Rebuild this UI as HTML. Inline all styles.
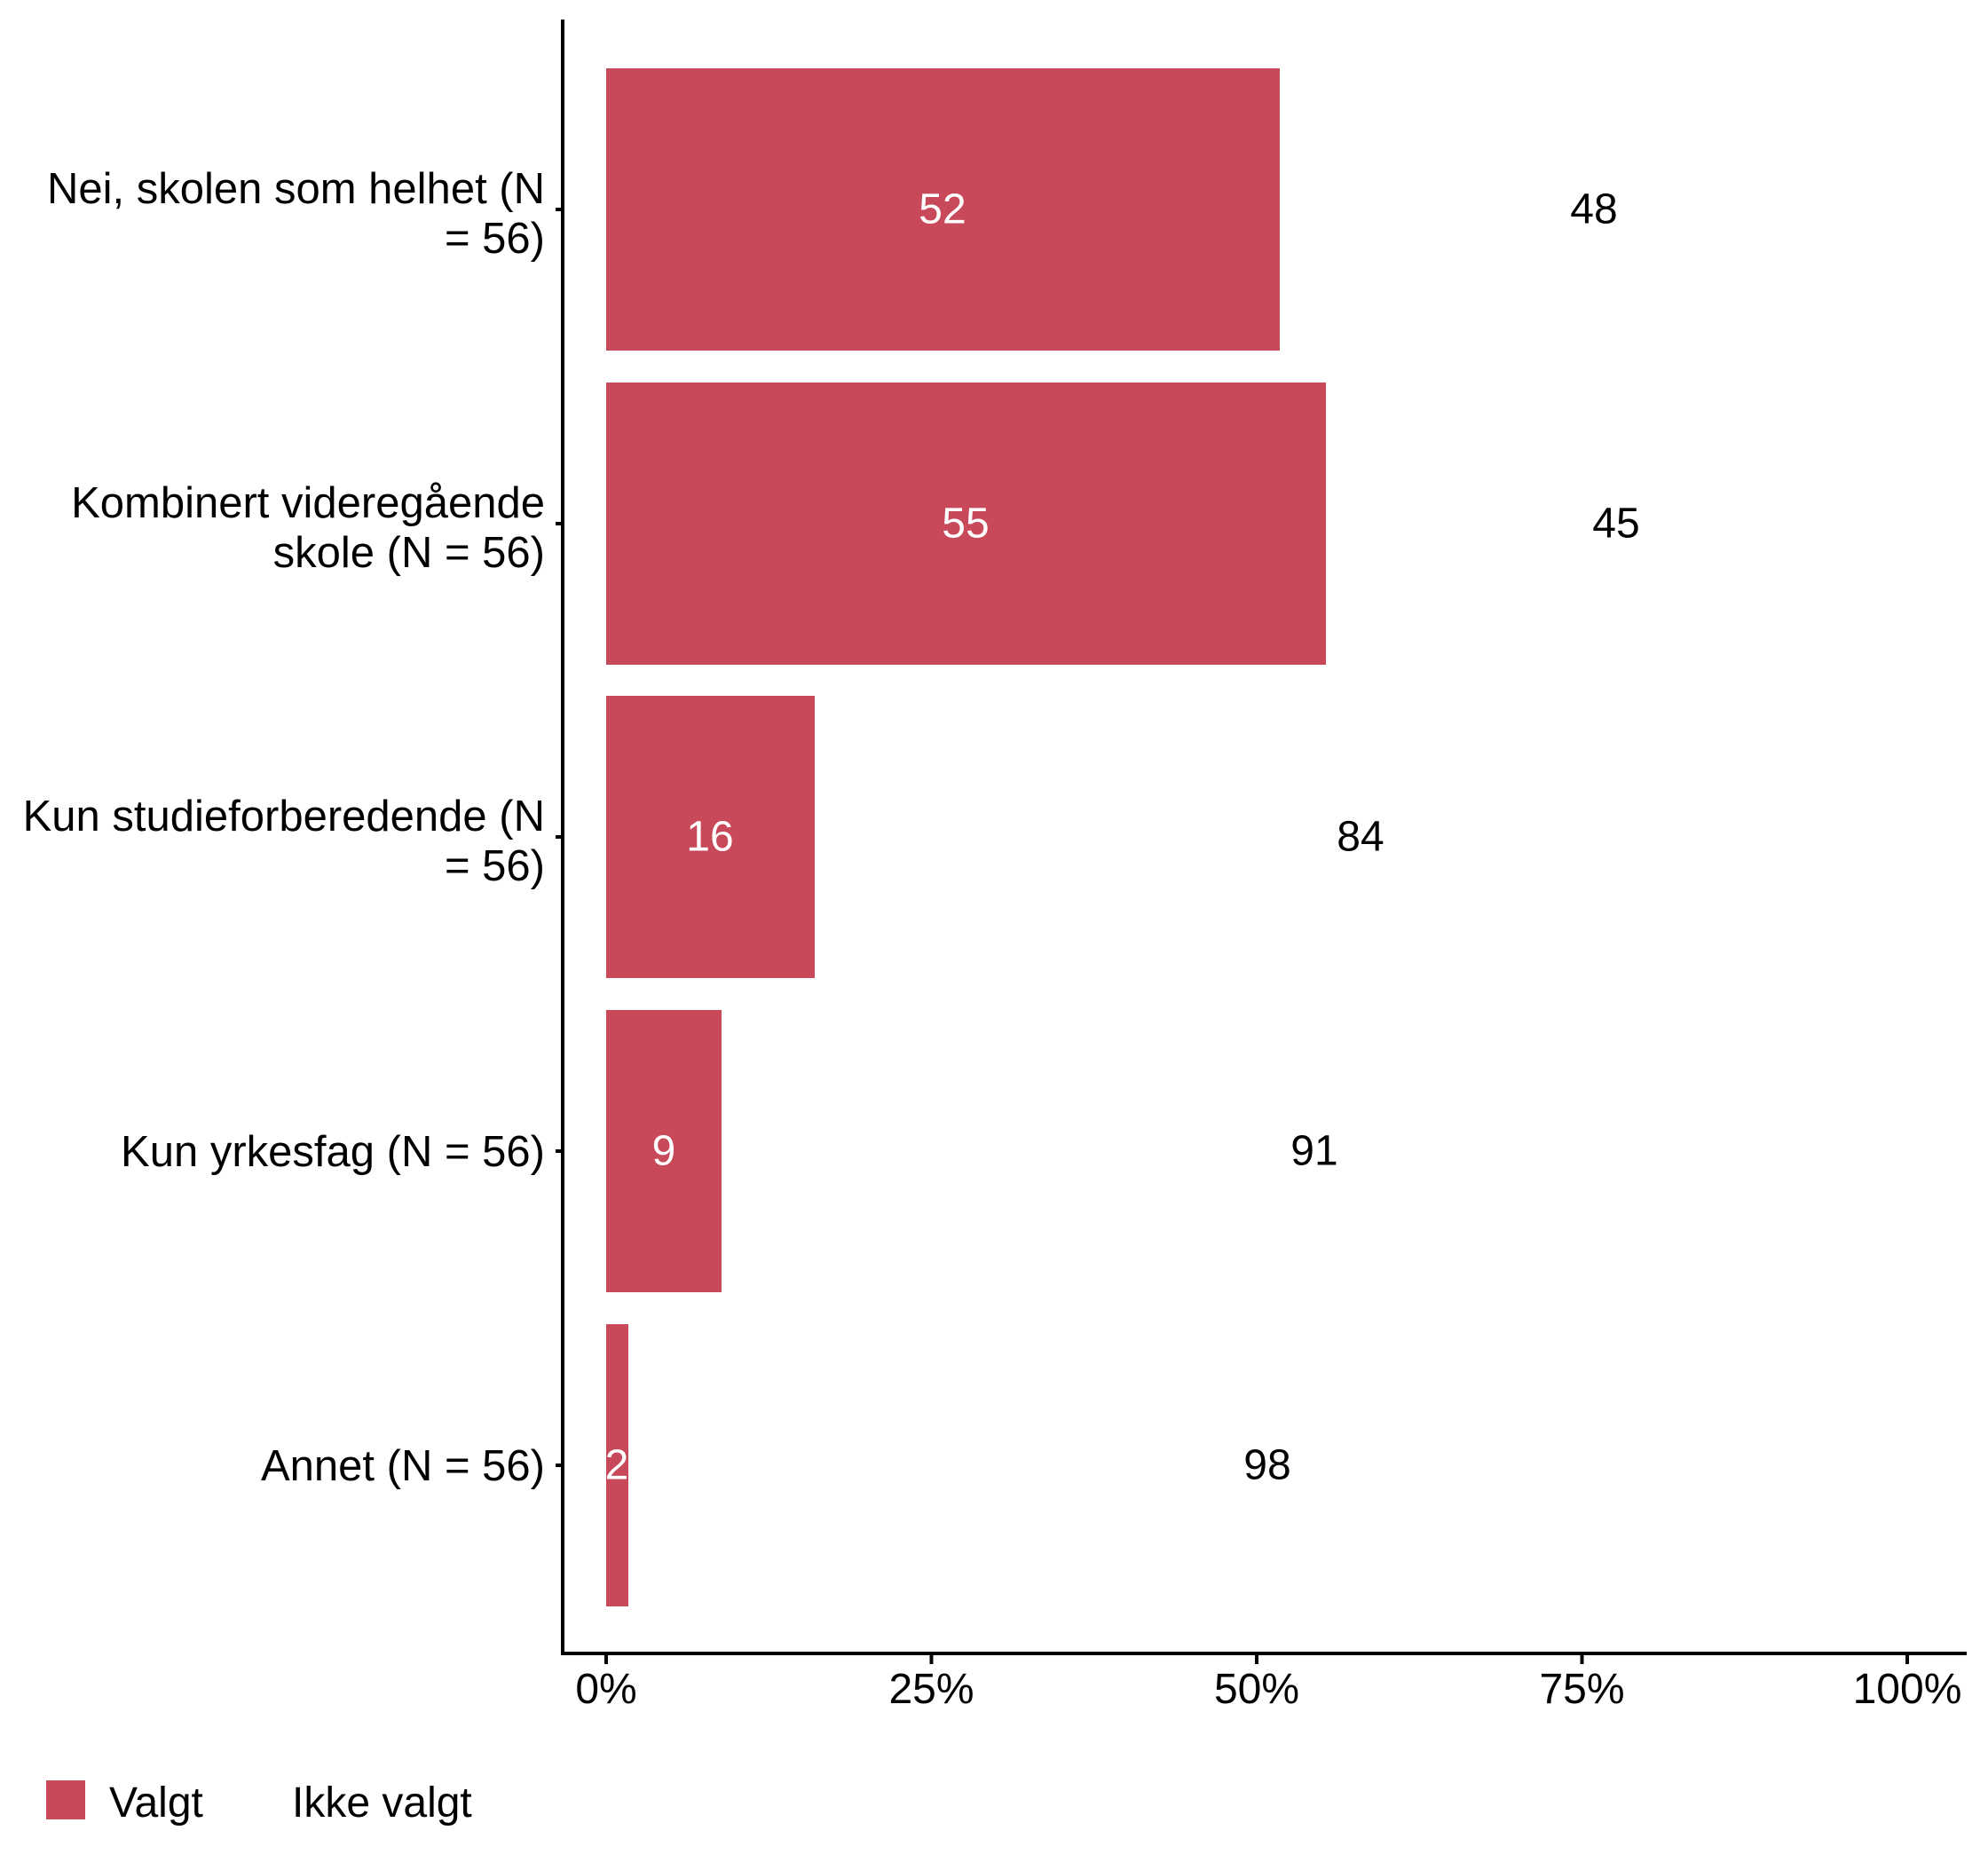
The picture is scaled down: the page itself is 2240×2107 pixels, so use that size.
<!DOCTYPE html>
<html><head><meta charset="utf-8"><style>body{margin:0;background:#fff}</style></head><body>
<svg width="2240" height="2102" xmlns="http://www.w3.org/2000/svg" font-family="Liberation Sans, Arial, sans-serif">
<rect width="2240" height="2102" fill="#fff"/>
<g fill="#C84A5A">
<rect x="683" y="77" width="759" height="318"/>
<rect x="683" y="431" width="811" height="318"/>
<rect x="683" y="784" width="235" height="318"/>
<rect x="683" y="1138" width="130" height="318"/>
<rect x="683" y="1492" width="25" height="318"/>
</g>
<g font-size="48" text-anchor="middle" dominant-baseline="central">
<text x="1062" y="236" fill="#fff">52</text><text x="1796" y="236">48</text>
<text x="1088" y="590" fill="#fff">55</text><text x="1821" y="590">45</text>
<text x="800" y="943" fill="#fff">16</text><text x="1533" y="943">84</text>
<text x="748" y="1297" fill="#fff">9</text><text x="1481" y="1297">91</text>
<text x="695" y="1651" fill="#fff">2</text><text x="1428" y="1651">98</text>
</g>
<g stroke="#000" stroke-width="4">
<line x1="634" y1="22" x2="634" y2="1865"/>
<line x1="632" y1="1863" x2="2216" y2="1863"/>
<line x1="626" y1="236" x2="634" y2="236"/><line x1="626" y1="590" x2="634" y2="590"/>
<line x1="626" y1="943" x2="634" y2="943"/><line x1="626" y1="1297" x2="634" y2="1297"/>
<line x1="626" y1="1651" x2="634" y2="1651"/>
<line x1="683" y1="1863" x2="683" y2="1875"/><line x1="1049.5" y1="1863" x2="1049.5" y2="1875"/>
<line x1="1416" y1="1863" x2="1416" y2="1875"/><line x1="1782.5" y1="1863" x2="1782.5" y2="1875"/>
<line x1="2149" y1="1863" x2="2149" y2="1875"/>
</g>
<g font-size="48" text-anchor="middle">
<text x="683" y="1919">0%</text><text x="1049.5" y="1919">25%</text><text x="1416" y="1919">50%</text>
<text x="1782.5" y="1919">75%</text><text x="2149" y="1919">100%</text>
</g>
<g font-size="49" text-anchor="end">
<text x="614" y="229">Nei, skolen som helhet (N</text><text x="614" y="285">= 56)</text>
<text x="614" y="583">Kombinert videregående</text><text x="614" y="639">skole (N = 56)</text>
<text x="614" y="936">Kun studieforberedende (N</text><text x="614" y="992">= 56)</text>
<text x="614" y="1314">Kun yrkesfag (N = 56)</text>
<text x="614" y="1668">Annet (N = 56)</text>
</g>
<rect x="52" y="2006" width="44" height="44" fill="#C84A5A"/>
<g font-size="48"><text x="123" y="2047">Valgt</text><text x="329" y="2047">Ikke valgt</text></g>
</svg>
</body></html>
